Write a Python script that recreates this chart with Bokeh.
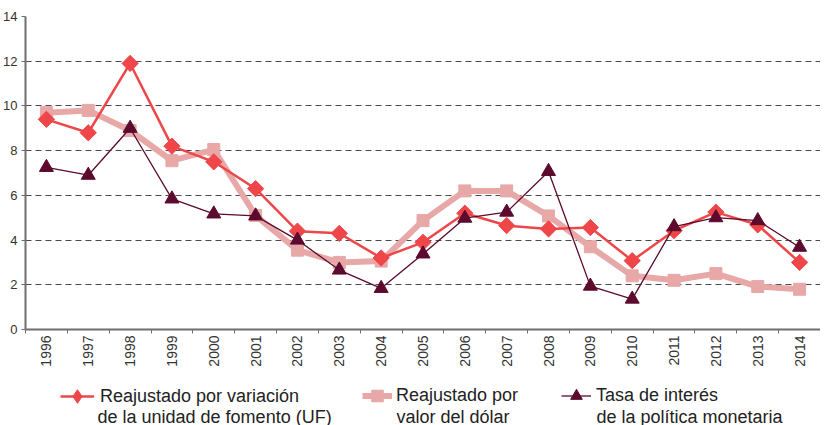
import math
from bokeh.plotting import figure
from bokeh.layouts import column
from bokeh.models import FixedTicker, Legend, LegendItem, Range1d, Label
from bokeh.embed import file_html
from bokeh.resources import INLINE

years = list(range(1996, 2015))
uf = [9.4, 8.8, 11.9, 8.2, 7.5, 6.3, 4.4, 4.3, 3.2, 3.9, 5.2, 4.65, 4.5, 4.56, 3.08, 4.42, 5.25, 4.68, 3.0]
dolar = [9.7, 9.8, 8.9, 7.55, 8.05, 5.1, 3.55, 3.0, 3.06, 4.87, 6.2, 6.2, 5.08, 3.7, 2.4, 2.2, 2.5, 1.92, 1.8]
tpm = [7.25, 6.9, 9.0, 5.84, 5.17, 5.08, 4.0, 2.66, 1.84, 3.38, 4.98, 5.25, 7.07, 1.94, 1.36, 4.6, 5.0, 4.87, 3.68]

labels_l1 = ["Reajustado por variación", "Reajustado por", "Tasa de interés"]
labels_l2 = ["de la unidad de fomento (UF)", "valor del dólar", "de la política monetaria"]
y_ticks = [0, 2, 4, 6, 8, 10, 12, 14]

RED = "#ef4649"
PINK = "#e8a8a8"
MAROON = "#5c0a2d"
FONT = "Liberation Sans"

p = figure(width=820, height=369, output_backend="svg", toolbar_location=None,
           x_range=Range1d(years[0] - 0.5, years[-1] + 0.5), y_range=Range1d(0, 14))
p.min_border_left = 23
p.min_border_right = 0
p.min_border_top = 16
p.min_border_bottom = 40
p.outline_line_color = None
p.background_fill_color = "white"

# grid
p.xgrid.visible = False
p.ygrid.ticker = FixedTicker(ticks=y_ticks)
p.ygrid.grid_line_color = "#4a4a4a"
p.ygrid.grid_line_dash = "6 4"
p.ygrid.grid_line_width = 1

# y axis
p.yaxis.ticker = FixedTicker(ticks=y_ticks)
p.yaxis.axis_line_color = "#6e6e6e"
p.yaxis.axis_line_width = 2
p.yaxis.major_tick_line_color = "#6e6e6e"
p.yaxis.major_tick_in = 0
p.yaxis.major_tick_out = 4
p.yaxis.minor_tick_line_color = None
p.yaxis.major_label_text_font = FONT
p.yaxis.major_label_text_font_size = "13px"
p.yaxis.major_label_text_color = "#333333"
p.yaxis.major_label_standoff = 4

# x axis
bounds = [y - 0.5 for y in years] + [years[-1] + 0.5]
p.xaxis.ticker = FixedTicker(ticks=years, minor_ticks=bounds)
p.xaxis.axis_line_color = "#6e6e6e"
p.xaxis.axis_line_width = 2
p.xaxis.major_tick_line_color = None
p.xaxis.major_tick_in = 0
p.xaxis.major_tick_out = 4
p.xaxis.minor_tick_line_color = "#6e6e6e"
p.xaxis.minor_tick_in = 0
p.xaxis.minor_tick_out = 4
p.xaxis.major_label_orientation = math.pi / 2
p.xaxis.major_label_text_font = FONT
p.xaxis.major_label_text_font_size = "14px"
p.xaxis.major_label_text_color = "#333333"
p.xaxis.major_label_standoff = 2

# series
l1 = p.line(years, uf, line_color=RED, line_width=2.5)
m1 = p.scatter(years, uf, marker="square", angle=math.pi / 4, size=11.5,
               fill_color=RED, line_color=RED)
l2 = p.line(years, dolar, line_color=PINK, line_width=6)
m2 = p.scatter(years, dolar, marker="square", size=12, fill_color=PINK, line_color=PINK)
l3 = p.line(years, tpm, line_color=MAROON, line_width=1.3)
m3 = p.scatter(years, tpm, marker="triangle", size=14, fill_color=MAROON, line_color=MAROON)
p.renderers = [l2, m2, l1, m1, l3, m3]

# legend strip: second figure whose key glyphs repeat the series out of its view
q = figure(width=820, height=56, output_backend="svg", toolbar_location=None,
           x_range=Range1d(0, 1), y_range=Range1d(0, 1))
q.min_border_left = q.min_border_right = q.min_border_top = q.min_border_bottom = 0
q.outline_line_color = None
q.axis.visible = False
q.grid.visible = False

k1 = [q.line(years, uf, line_color=RED, line_width=2.5),
      q.scatter(years, uf, marker="diamond", fill_color=RED, line_color=RED)]
k2 = [q.line(years, dolar, line_color=PINK, line_width=6),
      q.scatter(years, dolar, marker="square", fill_color=PINK, line_color=PINK)]
k3 = [q.line(years, tpm, line_color=MAROON, line_width=1.3),
      q.scatter(years, tpm, marker="triangle", fill_color=MAROON, line_color=MAROON)]

lx = [35, 337, 536]
ly = [12, 15, 15]
gw = [34, 30, 30]
gh = [34, 29, 29]
standoffs = [6, 4, 5]
l2x = [72, 371, 571]
for i in range(3):
    lg = Legend(items=[LegendItem(label=labels_l1[i], renderers=[k1, k2, k3][i])],
                location=(lx[i], ly[i]),
                orientation="horizontal", padding=0, margin=0,
                border_line_color=None, background_fill_alpha=0,
                glyph_width=gw[i], glyph_height=gh[i], label_standoff=standoffs[i],
                label_text_font=FONT, label_text_font_size="18px",
                label_text_color="#222222")
    q.add_layout(lg, "center")
    q.add_layout(Label(x=l2x[i], y=9, x_units="screen", y_units="screen", text=labels_l2[i],
                       text_font=FONT, text_font_size="18px", text_color="#222222",
                       text_baseline="alphabetic"))

open("out.html", "w").write(file_html(column(p, q), INLINE))
